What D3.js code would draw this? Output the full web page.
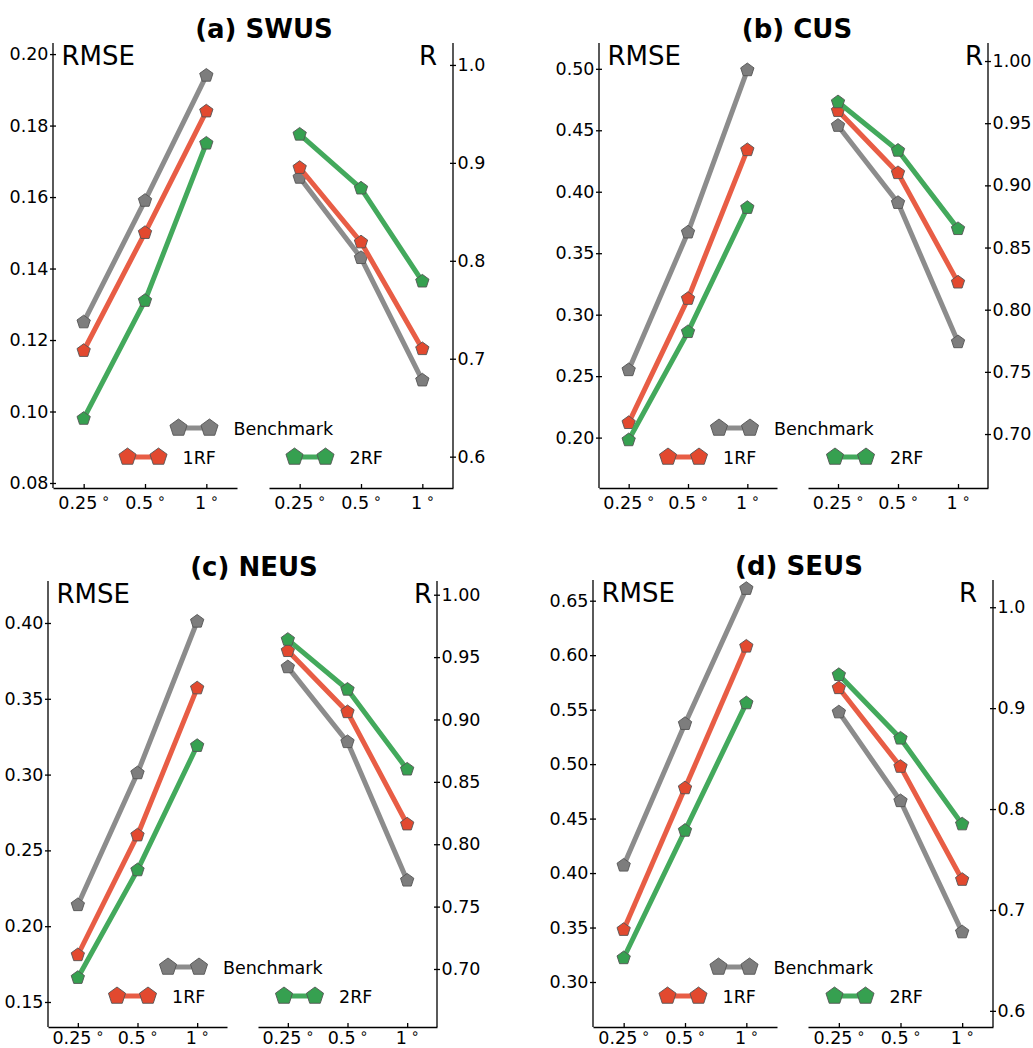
<!DOCTYPE html>
<html>
<head>
<meta charset="utf-8">
<script src="https://cdn.jsdelivr.net/npm/d3@7"></script>
<style>
  body { margin: 0; background: #fff; }
  svg { font-family: "DejaVu Sans", sans-serif; }
  .domain, .tick line { stroke: #000; stroke-width: 1.3; }
</style>
</head>
<body>
<svg id="chart" width="1033" height="1048"></svg>
<script>
// categories
const seriesNames = ['Benchmark', '1RF', '2RF'];
const resolutions = ['0.25', '0.5', '1'];
const panelTitles = ['(a) SWUS', '(b) CUS', '(c) NEUS', '(d) SEUS'];

// values, rows = Benchmark, 1RF, 2RF ; columns = 0.25°, 0.5°, 1°
const rmseSWUS = [[0.125, 0.159, 0.194], [0.117, 0.150, 0.184], [0.098, 0.131, 0.175]];
const rSWUS    = [[0.885, 0.803, 0.678], [0.895, 0.819, 0.710], [0.929, 0.874, 0.779]];
const rmseCUS  = [[0.255, 0.367, 0.499], [0.212, 0.313, 0.434], [0.198, 0.286, 0.387]];
const rCUS     = [[0.948, 0.886, 0.774], [0.960, 0.910, 0.822], [0.967, 0.928, 0.865]];
const rmseNEUS = [[0.214, 0.301, 0.401], [0.181, 0.260, 0.357], [0.166, 0.237, 0.319]];
const rNEUS    = [[0.942, 0.882, 0.771], [0.955, 0.906, 0.816], [0.964, 0.924, 0.860]];
const rmseSEUS = [[0.407, 0.537, 0.661], [0.348, 0.478, 0.608], [0.322, 0.439, 0.556]];
const rSEUS    = [[0.896, 0.808, 0.678], [0.920, 0.842, 0.730], [0.933, 0.870, 0.785]];

// tick labels
const rmseTicksSWUS = [0.08, 0.10, 0.12, 0.14, 0.16, 0.18, 0.20];
const rTicksSWUS    = [0.6, 0.7, 0.8, 0.9, 1.0];
const rmseTicksCUS  = [0.20, 0.25, 0.30, 0.35, 0.40, 0.45, 0.50];
const rTicksCUS     = [0.70, 0.75, 0.80, 0.85, 0.90, 0.95, 1.00];
const rmseTicksNEUS = [0.15, 0.20, 0.25, 0.30, 0.35, 0.40];
const rTicksNEUS    = [0.70, 0.75, 0.80, 0.85, 0.90, 0.95, 1.00];
const rmseTicksSEUS = [0.30, 0.35, 0.40, 0.45, 0.50, 0.55, 0.60, 0.65];
const rTicksSEUS    = [0.6, 0.7, 0.8, 0.9, 1.0];

const lineColors   = ['#8c8c8c', '#e85d45', '#43a95c'];
const markerColors = ['#7d7d7d', '#e2492f', '#36a050'];

// layout of each panel (pixel boxes and axis extents)
const panels = [
  {title: panelTitles[0], rmse: rmseSWUS, r: rSWUS, rmseTicks: rmseTicksSWUS, rTicks: rTicksSWUS,
   xl: [53, 237], xr: [269, 453], top: 43, bottom: 488, xLab: 21,
   rmseDom: [0.0786, 0.2031], rDom: [0.568, 1.0224], rmseFmt: '.2f', rFmt: '.1f',
   titleX: 264, titleY: 38, rGap: 16},
  {title: panelTitles[1], rmse: rmseCUS, r: rCUS, rmseTicks: rmseTicksCUS, rTicks: rTicksCUS,
   xl: [599, 777], xr: [808, 988], top: 43, bottom: 488, xLab: 21,
   rmseDom: [0.159, 0.521], rDom: [0.6566, 1.0145], rmseFmt: '.2f', rFmt: '.2f',
   titleX: 797, titleY: 38, rGap: 5},
  {title: panelTitles[2], rmse: rmseNEUS, r: rNEUS, rmseTicks: rmseTicksNEUS, rTicks: rTicksNEUS,
   xl: [48, 227], xr: [258, 437], top: 581, bottom: 1027, xLab: 17,
   rmseDom: [0.1335, 0.4277], rDom: [0.6535, 1.011], rmseFmt: '.2f', rFmt: '.2f',
   titleX: 254, titleY: 576, rGap: 5},
  {title: panelTitles[3], rmse: rmseSEUS, r: rSEUS, rmseTicks: rmseTicksSEUS, rTicks: rTicksSEUS,
   xl: [593, 777], xr: [808, 993], top: 580, bottom: 1027, xLab: 17,
   rmseDom: [0.2587, 0.669], rDom: [0.584, 1.027], rmseFmt: '.2f', rFmt: '.1f',
   titleX: 799, titleY: 575, rGap: 16}
];

// pentagon marker, point up
const pentagon = {
  draw(context, size) {
    const r = Math.sqrt(size / 2.3776);
    for (let k = 0; k < 5; k++) {
      const a = -Math.PI / 2 + k * 2 * Math.PI / 5;
      const px = r * Math.cos(a), py = r * Math.sin(a);
      if (k === 0) context.moveTo(px, py); else context.lineTo(px, py);
    }
    context.closePath();
  }
};
const markerPath = rad => d3.symbol().type(pentagon).size(2.3776 * rad * rad)();

const svg = d3.select('#chart');

const drawHalf = (g, p, values, xRange, yDom, ticks, fmt, side) => {
  const x = d3.scaleLinear().domain([-0.5, 2.5]).range(xRange);
  const y = d3.scaleLinear().domain(yDom).range([p.bottom, p.top]);

  // x axis
  const xAxisG = g.append('g')
    .attr('transform', `translate(0,${p.bottom})`)
    .call(d3.axisBottom(x).tickValues([0, 1, 2]).tickSize(-4).tickSizeOuter(0));
  xAxisG.attr('font-family', null).attr('font-size', null);
  xAxisG.selectAll('.tick text').each(function(i) {
    const t = d3.select(this)
      .attr('y', p.xLab).attr('dy', null)
      .attr('font-size', 17.5).attr('fill', '#000')
      .text(resolutions[i]);
    t.append('tspan').attr('dx', 4).attr('dy', -6).attr('font-size', 14).text('∘');
  });

  // y axis
  const yAxis = side === 'left' ? d3.axisLeft(y) : d3.axisRight(y);
  const yAxisG = g.append('g')
    .attr('transform', `translate(${side === 'left' ? xRange[0] : xRange[1]},0)`)
    .call(yAxis.tickValues(ticks).tickFormat(d3.format(fmt)).tickSize(3).tickSizeOuter(0).tickPadding(1.5));
  yAxisG.attr('font-family', null).attr('font-size', null);
  yAxisG.selectAll('.tick text').attr('font-size', 17.5).attr('fill', '#000');
  yAxisG.select('.domain').attr('d', `M0,${p.top}V${p.bottom}`);
  yAxisG.selectAll('.tick line').attr('x1', side === 'left' ? 3 : -3);

  const line = d3.line().x((d, i) => x(i)).y(d => y(d));
  values.forEach((row, s) => {
    g.append('path')
      .attr('d', line(row))
      .attr('fill', 'none')
      .attr('stroke', lineColors[s])
      .attr('stroke-width', 5);
    g.selectAll(null).data(row).enter().append('path')
      .attr('d', markerPath(7))
      .attr('transform', (d, i) => `translate(${x(i)},${y(d)})`)
      .attr('fill', markerColors[s])
      .attr('stroke', '#555')
      .attr('stroke-width', 0.9);
  });
};

panels.forEach(p => {
  const g = svg.append('g');
  drawHalf(g, p, p.rmse, p.xl, p.rmseDom, p.rmseTicks, p.rmseFmt, 'left');
  drawHalf(g, p, p.r, p.xr, p.rDom, p.rTicks, p.rFmt, 'right');

  g.append('text')
    .attr('x', p.titleX).attr('y', p.titleY)
    .attr('text-anchor', 'middle')
    .attr('font-size', 26).attr('font-weight', 'bold')
    .text(p.title);

  g.append('text')
    .attr('x', p.xl[0] + 8.5).attr('y', p.top + 22)
    .attr('font-size', 26)
    .text('RMSE');
  g.append('text')
    .attr('x', p.xr[1] - p.rGap).attr('y', p.top + 22)
    .attr('text-anchor', 'end')
    .attr('font-size', 26)
    .text('R');

  // legend
  const cx = (p.xl[0] + p.xr[1]) / 2;
  const legendPos = [[cx - 74.5, p.bottom - 60], [cx - 125.5, p.bottom - 31], [cx + 41.5, p.bottom - 31]];
  seriesNames.forEach((name, s) => {
    const [lx, ly] = legendPos[s];
    const lg = g.append('g').attr('transform', `translate(${lx},${ly})`);
    lg.append('line').attr('x1', 0).attr('x2', 31).attr('y1', 0).attr('y2', 0)
      .attr('stroke', lineColors[s]).attr('stroke-width', 5);
    [0, 31].forEach(mx => {
      lg.append('path')
        .attr('d', markerPath(9))
        .attr('transform', `translate(${mx},0)`)
        .attr('fill', markerColors[s])
        .attr('stroke', '#555')
        .attr('stroke-width', 0.9);
    });
    lg.append('text').attr('x', 55).attr('y', 7)
      .attr('font-size', 17.5)
      .text(name);
  });
});
</script>
</body>
</html>
